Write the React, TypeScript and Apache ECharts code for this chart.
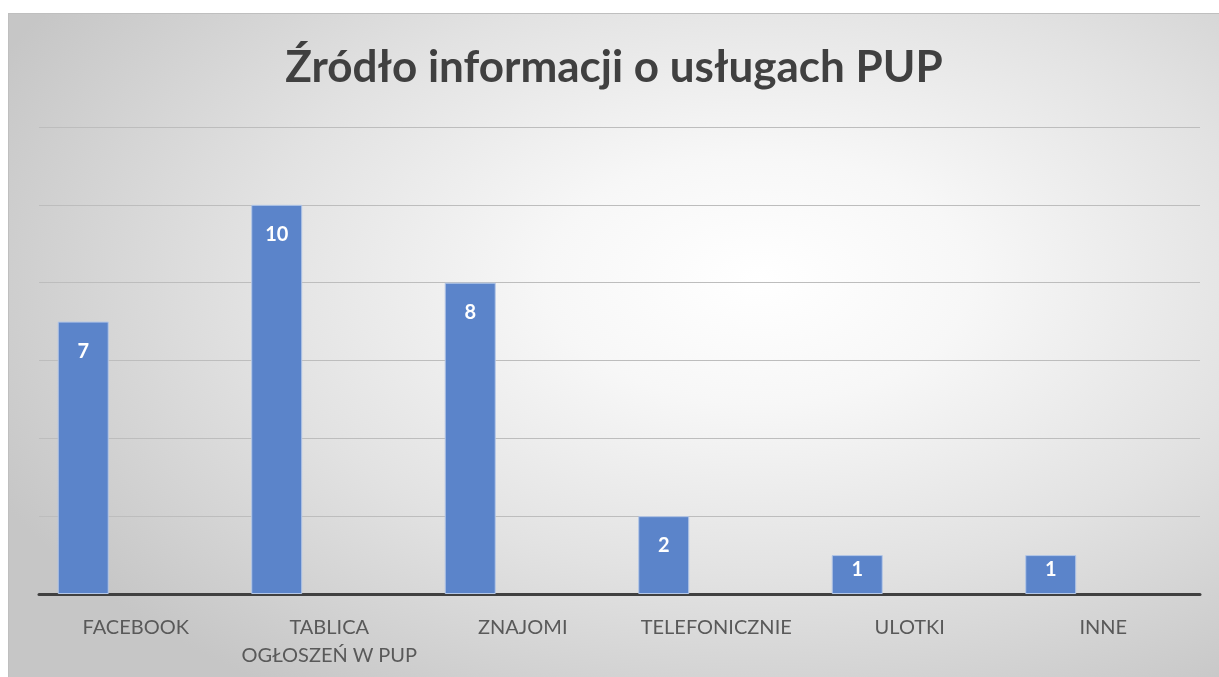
import React, { useEffect, useRef } from "react";
import * as echarts from "echarts";

const titleText = "Źródło informacji o usługach PUP";
const categories = ["FACEBOOK", "TABLICA\nOGŁOSZEŃ W PUP", "ZNAJOMI", "TELEFONICZNIE", "ULOTKI", "INNE"];
const values = [7, 10, 8, 2, 1, 1];
const emptySeries = [null, null, null, null, null, null];

export default function App() {
  const ref = useRef<HTMLDivElement>(null);
  useEffect(() => {
    if (!ref.current) return;
    const chart = echarts.init(ref.current, null, { renderer: "svg" });
    chart.setOption({
      animation: false,
      title: {
        text: titleText,
        left: "center",
        top: 20,
        textStyle: { fontFamily: "Lato", fontWeight: "bold", fontSize: 44, color: "#404040", lineHeight: 52 },
      },
      grid: { left: 30, right: 19, top: 113, bottom: 83 },
      xAxis: {
        type: "category",
        data: categories,
        axisLine: { lineStyle: { color: "#404040", width: 3 } },
        axisTick: { show: false },
        axisLabel: { interval: 0, fontFamily: "Lato", fontSize: 20, color: "#595959", margin: 18, lineHeight: 28 },
      },
      yAxis: {
        type: "value",
        min: 0,
        max: 12,
        interval: 2,
        axisLabel: { show: false },
        axisLine: { show: false },
        axisTick: { show: false },
        splitLine: { lineStyle: { color: "#bdbdbd", width: 1 } },
      },
      series: [
        {
          type: "bar",
          data: values.map((v) => ({
            value: v,
            label: { distance: v < 2 ? 3 : 18 },
          })),
          barWidth: 51,
          barGap: "106%",
          itemStyle: { color: "#5b84ca", borderColor: "#b4c7e7", borderWidth: 1 },
          label: {
            show: true,
            position: "insideTop",
            color: "#ffffff",
            fontFamily: "Lato",
            fontWeight: "bold",
            fontSize: 20,
          },
        },
        {
          type: "bar",
          data: emptySeries,
          barWidth: 51,
        },
      ],
    });
    return () => chart.dispose();
  }, []);
  return (
    <div
      style={{
        position: "fixed",
        left: 8,
        top: 13,
        width: 1211,
        height: 664,
        borderTop: "1px solid #bfbfbf",
        borderLeft: "1px solid #bfbfbf",
        boxSizing: "border-box",
        background: "radial-gradient(ellipse 70% 75% at 62% 40%, #ffffff 0%, #f7f7f7 25%, #e2e2e2 60%, #c6c6c6 100%)",
      }}
    >
      <div ref={ref} style={{ width: 1210, height: 663 }} />
    </div>
  );
}
